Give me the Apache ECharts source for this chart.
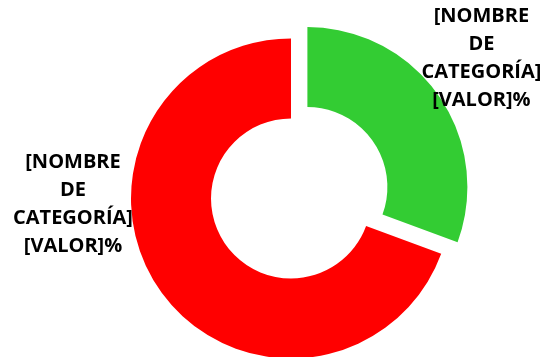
<!DOCTYPE html>
<html>
<head>
<meta charset="utf-8">
<script src="https://cdn.jsdelivr.net/npm/echarts@6/dist/echarts.min.js"></script>
<style>
html,body{margin:0;padding:0;background:#fff;}
#chart{width:548px;height:357px;}
</style>
</head>
<body>
<div id="chart"></div>
<script>
// Data
var categories = ['Categoría 1', 'Categoría 2'];
var values = [30.6, 69.4];
var colors = ['#33CC33', '#FF0000'];
var exploded = [true, false];
var labelText = '[NOMBRE\nDE\nCATEGORÍA]\n[VALOR]%';
// label centres (green one given before the slice's explode shift)
var labelSpots = [[465, 70], [73, 204]];

var chart = echarts.init(document.getElementById('chart'), null, {renderer: 'canvas'});
var data = categories.map(function (c, i) {
  return {
    name: c,
    value: values[i],
    selected: exploded[i],
    itemStyle: {color: colors[i]}
  };
});
chart.setOption({
  animation: false,
  backgroundColor: '#ffffff',
  series: [{
    type: 'pie',
    center: [291, 198.5],
    radius: [80, 160],
    startAngle: 90,
    clockwise: true,
    selectedMode: 'multiple',
    selectedOffset: 20,
    avoidLabelOverlap: false,
    emphasis: {disabled: true, scale: false},
    itemStyle: {borderWidth: 0},
    label: {
      show: true,
      position: 'outside',
      formatter: function () { return labelText; },
      fontFamily: 'Open Sans',
      fontWeight: 'bold',
      fontSize: 20,
      lineHeight: 28,
      color: '#000000',
      align: 'center'
    },
    labelLine: {show: false},
    labelLayout: function (params) {
      var p = labelSpots[params.dataIndex];
      var r = params.labelRect;
      var ax = params.align === 'left' ? r.x : (params.align === 'right' ? r.x + r.width : r.x + r.width / 2);
      var ay = params.verticalAlign === 'top' ? r.y : (params.verticalAlign === 'bottom' ? r.y + r.height : r.y + r.height / 2);
      return {dx: p[0] - ax, dy: p[1] - ay, align: 'center', verticalAlign: 'middle'};
    },
    data: data
  }]
});
</script>
</body>
</html>
